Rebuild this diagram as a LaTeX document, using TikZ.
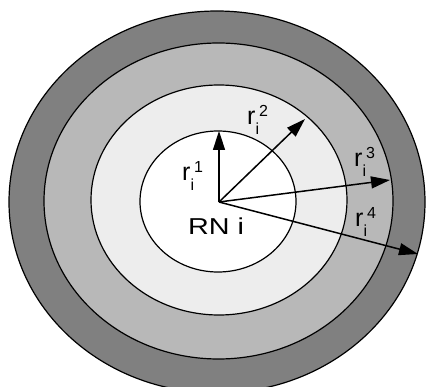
\documentclass[tikz,border=0pt]{standalone}
\usepackage{fontspec}
\setmainfont{Liberation Sans}
\usetikzlibrary{arrows.meta}

% Rotulo r_i^k
\newcommand{\rotr}[1]{{\fontsize{25}{25}\selectfont r}%
  \raisebox{-10pt}{\fontsize{16}{16}\selectfont i}%
  \raisebox{8pt}{\fontsize{16}{16}\selectfont #1}}

\tikzset{
  anel/.style={draw=black, line width=1.2pt},
  seta/.style={line width=1.5pt, -{Triangle[length=19pt,width=12pt]}},
  rot/.style={anchor=base west, inner sep=0pt}
}

\begin{document}
\begin{tikzpicture}[x=1pt,y=-1pt]

\useasboundingbox (0,0) rectangle (426,387);
\clip (0,0) rectangle (426,387);

% Aneis, de fora para dentro
\foreach \cx/\cy/\rx/\ry/\cor in {217/202/208/191/black!50,
    218.5/201/174.5/158/black!28, 219/200/128/115/black!7,
    218/201.5/78/70.5/white} {
  \filldraw[anel, fill=\cor] (\cx,\cy) ellipse [x radius=\rx, y radius=\ry];
}

% Centro e pontas dos raios
\coordinate (centro) at (219,202);
\coordinate (p1) at (219,131);
\coordinate (p2) at (305,119);
\coordinate (p3) at (390,180);
\coordinate (p4) at (418,254);

% Raios
\foreach \i in {1,...,4} {
  \draw[seta] (centro) -- (p\i);
}

% Rotulos
\node[rot] (l1) at (182,181) {\rotr{1}};
\node[rot] (l2) at (247,125) {\rotr{2}};
\node[rot] (l3) at (354,167) {\rotr{3}};
\node[rot] (l4) at (355,227) {\rotr{4}};
\node[rot] (rn) at (188,235) {\scalebox{1.25}[1]{\fontsize{23}{23}\selectfont RN i}};

\end{tikzpicture}
\end{document}
